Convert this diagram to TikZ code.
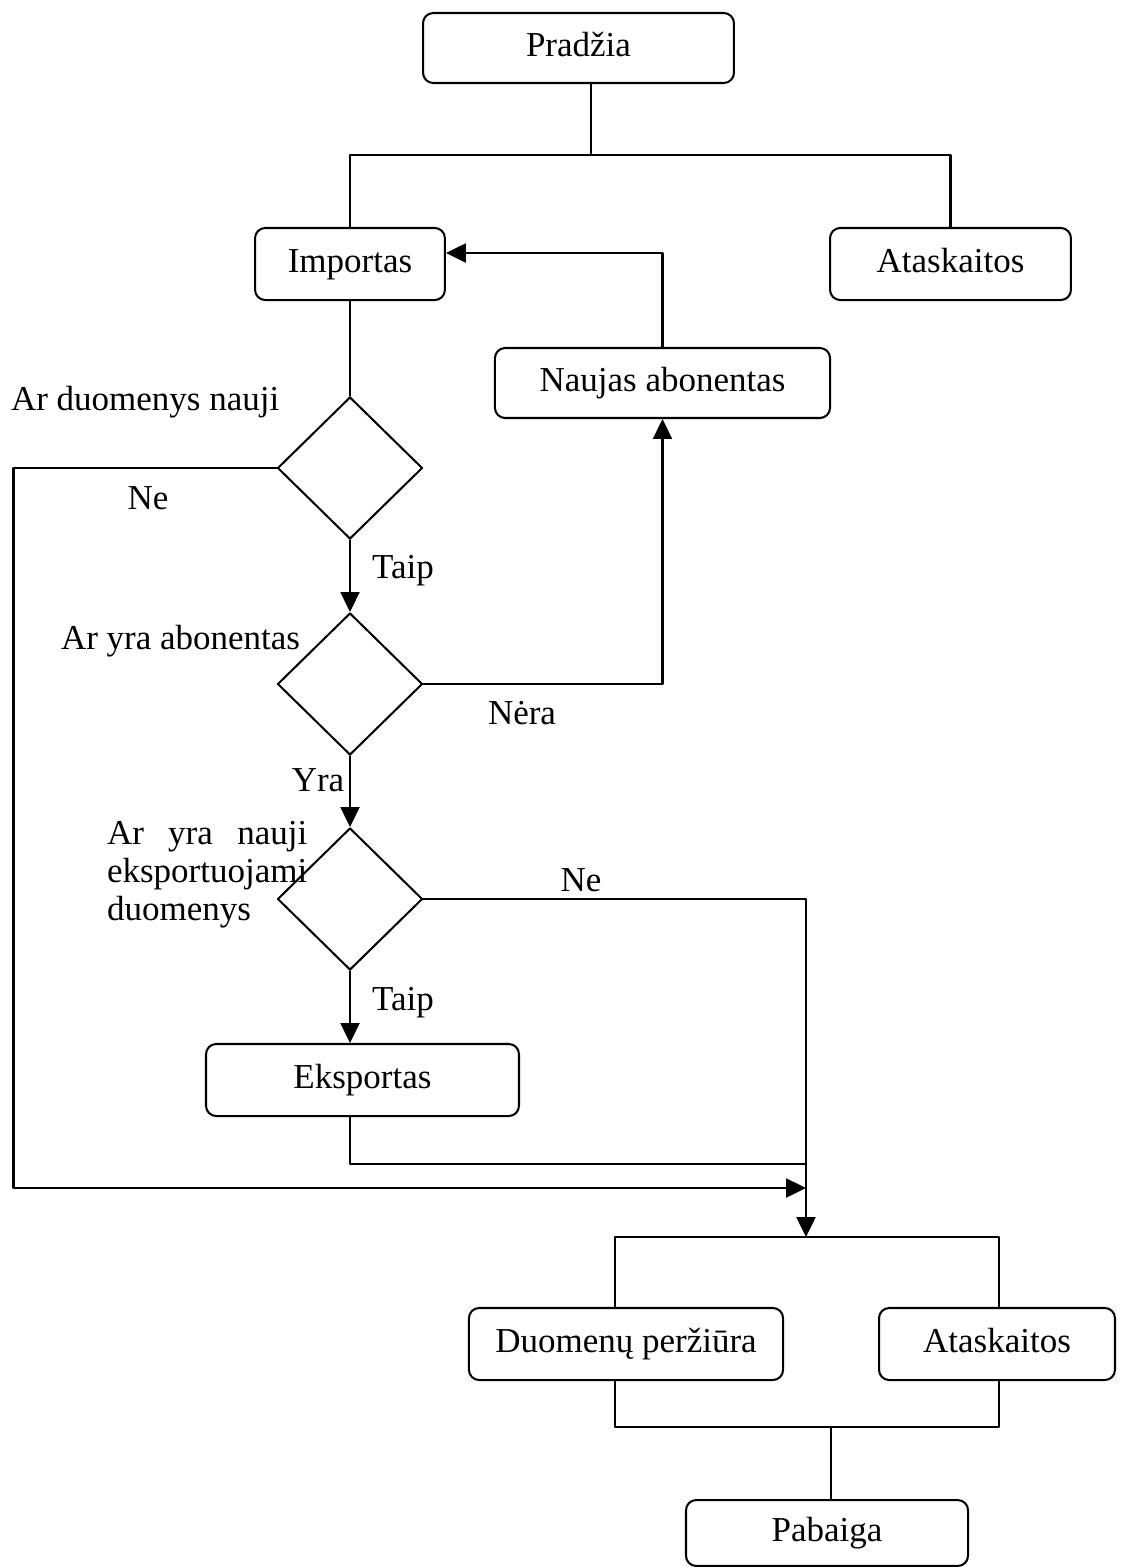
\documentclass[tikz,border=0pt]{standalone}
\usepackage{fontspec}
\setmainfont{Liberation Serif}
\usetikzlibrary{shapes.geometric,calc,arrows.meta}
\newlength\qlinewd

\begin{document}
\fontsize{12}{13}\selectfont
\begin{tikzpicture}[x=0.342857pt,y=-0.342857pt,line cap=round,line join=round,
    >={Triangle[length=6.8pt,width=6.5pt]},
    every path/.style={line width=0.7pt},
    box/.style={draw,rounded corners=3.5pt,inner sep=0pt,align=center,
                text height=8.5pt,text depth=2.5pt},
    cond/.style={draw,diamond,inner sep=0pt,minimum width=49.7pt,minimum height=48.7pt},
    lbl/.style={inner sep=0pt}]
  \useasboundingbox (0,0) rectangle (1120,1567);

  %--- Top part ------------------------------------------------------------
  \node[box,minimum width=106.6pt,minimum height=24pt] (pradzia) at (578.5,48) {Pradžia};
  \node[box,minimum width=65.1pt,minimum height=24.7pt] (importas) at (350,264) {Importas};
  \node[box,minimum width=82.6pt,minimum height=24.7pt] (atask1) at (950.5,264) {Ataskaitos};
  \node[box,minimum width=114.9pt,minimum height=24pt] (naujas) at (662.5,383) {Naujas abonentas};

  \coordinate (top) at (591,155);
  \draw (pradzia.south -| top) -- (top);
  \draw (importas.north) |- (top) -| (atask1.north);
  \draw[->] (naujas.north) |- ($(importas.east)+(0,-11)$);

  %--- Decisions -----------------------------------------------------------
  \node[cond] (q1) at (350,468) {};
  \node[cond] (q2) at (350,684) {};
  \node[cond] (q3) at (350,899) {};
  \node[box,minimum width=107.3pt,minimum height=24.7pt] (eksportas) at (362.5,1080) {Eksportas};

  \draw (importas.south) -- (q1.north);
  \draw[->] (q1.south) -- (q2.north);
  \draw[->] (q2.south) -- (q3.north);
  \draw[->] (q3.south) -- (q3.south |- eksportas.north);
  \draw[->] (q2.east) -| (naujas.south);

  % labels next to the decisions
  \node[lbl,anchor=west] (lq1) at (10,402) {Ar duomenys nauji};
  \node[lbl] (ne1) at (148,498) {Ne};
  \node[lbl] (taip1) at (403,571) {Taip};
  \node[lbl,anchor=west] (lq2) at (60,641) {Ar yra abonentas};
  \node[lbl] (nera) at (522,713) {Nėra};
  \node[lbl] (yra) at (318,780) {Yra};
  \node[lbl,anchor=north west,align=left] (lq3) at (106,820)
       {\settowidth{\qlinewd}{eksportuojami}\makebox[\qlinewd][s]{Ar yra nauji}\\eksportuojami\\duomenys};
  \node[lbl] (ne2) at (581,880) {Ne};
  \node[lbl] (taip2) at (403,1003) {Taip};

  %--- Joining lines -------------------------------------------------------
  \coordinate (m1) at (806,1188);
  \coordinate (m2) at (806,1237);
  \coordinate (m3) at (806,1164);
  \draw[->] (q1.west) -- ++(-263,0) |- (m1);
  \draw[->] (q3.east) -| (m2);
  \draw (eksportas.south -| q3) |- (m3);

  %--- Bottom part ---------------------------------------------------------
  \node[box,minimum width=107.7pt,minimum height=24.7pt] (perziura) at (626,1344) {Duomenų peržiūra};
  \node[box,minimum width=80.9pt,minimum height=24.7pt] (atask2) at (997,1344) {Ataskaitos};
  \node[box,minimum width=96.7pt,minimum height=22.6pt] (pabaiga) at (827,1533) {Pabaiga};

  \coordinate (bl) at (615,1237);
  \coordinate (br) at (999,1237);
  \coordinate (bb) at (831,1427);
  \draw (perziura.north -| bl) -- (bl) -- (br) -- (atask2.north -| br);
  \draw (perziura.south -| bl) |- (bb) -| (atask2.south -| br);
  \draw (bb) -- (pabaiga.north -| bb);
\end{tikzpicture}
\end{document}
